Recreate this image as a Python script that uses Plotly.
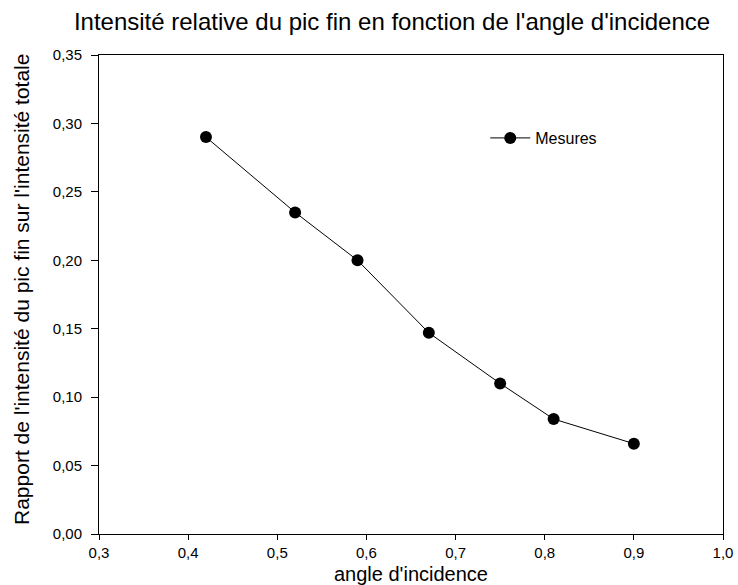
import plotly.graph_objects as go

angles = [0.42, 0.52, 0.59, 0.67, 0.75, 0.81, 0.90]
ratios = [0.290, 0.235, 0.200, 0.147, 0.110, 0.084, 0.066]

title_text = "Intensité relative du pic fin en fonction de l'angle d'incidence"
x_title = "angle d'incidence"
y_title = "Rapport de l'intensité du pic fin sur l'intensité totale"

fig = go.Figure()
fig.add_trace(go.Scatter(
    x=angles, y=ratios, mode="lines+markers", name="Mesures",
    line=dict(color="black", width=1),
    marker=dict(color="black", size=12),
))

font = "Liberation Sans, Arial, sans-serif"
L, R, T, B = 99, 15, 55, 51
W, H = 738, 585
pw, ph = W - L - R, H - T - B

fig.update_layout(
    width=W, height=H,
    separators=", ",
    paper_bgcolor="white", plot_bgcolor="white",
    margin=dict(l=L, r=R, t=T, b=B, autoexpand=False),
    font=dict(family=font, color="black", size=15),
    title=dict(text=title_text,
               x=(392 - L) / pw, xanchor="center", xref="paper", yref="container",
               y=1 - 22 / H, yanchor="middle",
               font=dict(size=24, family=font, color="black")),
    showlegend=True,
    legend=dict(x=0.619, y=(H - B - 138) / ph, xanchor="left", yanchor="middle",
                itemwidth=40, bgcolor="rgba(0,0,0,0)", font=dict(size=16)),
    xaxis=dict(range=[0.3, 1.0], dtick=0.1, tick0=0.3, tickformat=".1f",
               showgrid=False, zeroline=False, showline=True, linecolor="black",
               linewidth=1, mirror=True, ticks="outside", ticklen=5,
               tickcolor="black", automargin=False),
    yaxis=dict(range=[0, 0.35], dtick=0.05, tickformat=".2f",
               showgrid=False, zeroline=False, showline=True, linecolor="black",
               linewidth=1, mirror=True, ticks="outside", ticklen=7,
               tickcolor="black", automargin=False, ticklabelstandoff=6),
    annotations=[
        dict(text=x_title, xref="paper", yref="paper", x=0.5, y=(H - B - 573.5) / ph,
             xanchor="center", yanchor="middle", showarrow=False,
             font=dict(size=20, family=font, color="black")),
        dict(text=y_title, xref="paper", yref="paper", x=(21 - L) / pw,
             y=(H - B - 290) / ph, xanchor="center", yanchor="middle",
             textangle=-90, showarrow=False,
             font=dict(size=21, family=font, color="black")),
    ],
)

fig.write_html("out.html", config={"displayModeBar": False},
               post_script="document.body.style.margin='0';document.body.style.overflow='hidden';")
